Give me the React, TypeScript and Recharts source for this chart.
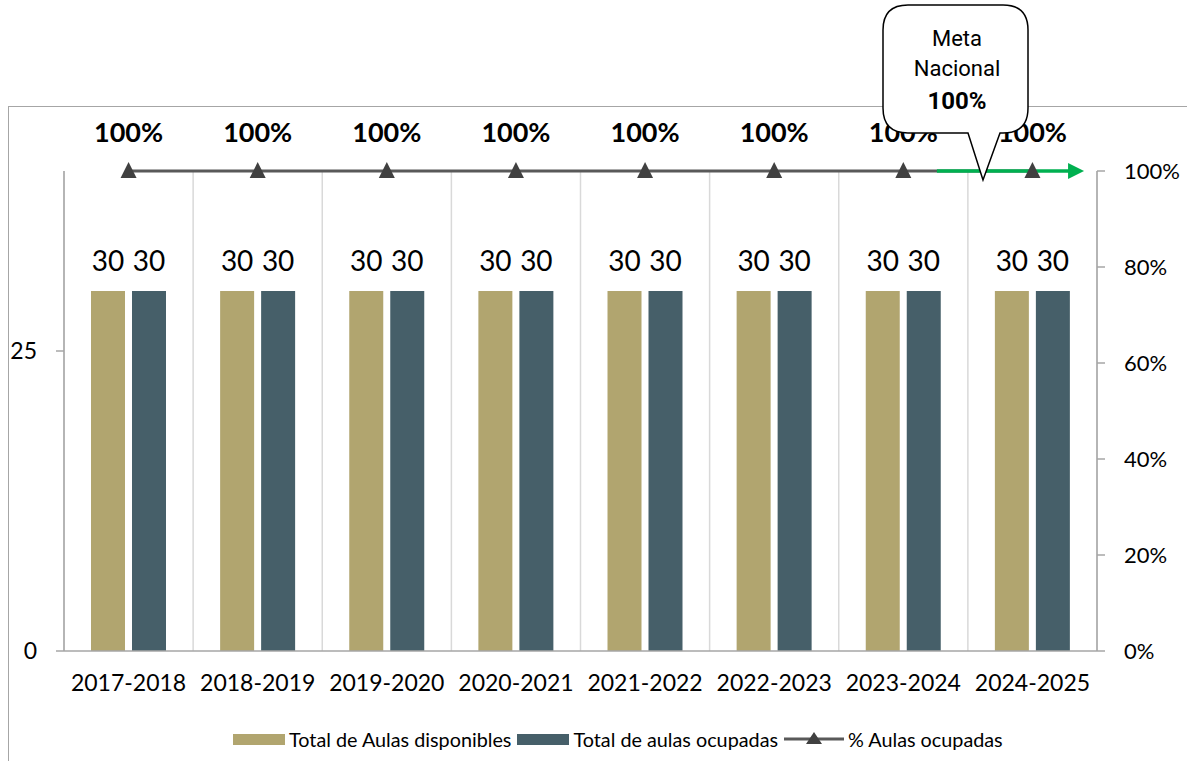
import React from "react"
import {
  Bar,
  CartesianGrid,
  ComposedChart,
  LabelList,
  Legend,
  Line,
  ReferenceLine,
  XAxis,
  YAxis,
} from "recharts"

const categories = ["2017-2018", "2018-2019", "2019-2020", "2020-2021", "2021-2022", "2022-2023", "2023-2024", "2024-2025"]
const disponibles = [30, 30, 30, 30, 30, 30, 30, 30]
const ocupadas = [30, 30, 30, 30, 30, 30, 30, 30]
const porcentaje = [1, 1, 1, 1, 1, 1, 1, 1]

const leftTicks = [0, 25]
const rightTicks = [0, 0.2, 0.4, 0.6, 0.8, 1]

// meta nacional arrow, start/end in category units along the x axis
const metaValue = 1
const metaFrom = 6.76
const metaTo = 7.9

const data = categories.map((name, i) => ({
  name,
  disponibles: disponibles[i],
  ocupadas: ocupadas[i],
  pct: porcentaje[i],
}))

const TAN = "#B1A56F"
const SLATE = "#465F69"
const LINE = "#595959"
const MARK = "#404040"
const FONT = "Lato, 'Open Sans', sans-serif"

const pctFmt = (v: number) => `${Math.round(v * 100)}%`

function Triangle(props: any) {
  const { cx, cy } = props
  if (cx == null || cy == null) return null
  return <polygon points={`${cx},${cy - 9} ${cx - 8},${cy + 7} ${cx + 8},${cy + 7}`} fill={MARK} />
}

function GreenArrow(props: any) {
  const { x1, y1, x2 } = props
  if (x1 == null) return null
  const left = Math.min(x1, x2)
  const band = Math.abs(x2 - x1) / categories.length
  const start = left + metaFrom * band
  const tip = left + metaTo * band
  return (
    <g>
      <line x1={start} y1={y1} x2={tip - 15} y2={y1} stroke="#00B050" strokeWidth={3.5} />
      <polygon points={`${tip},${y1} ${tip - 16},${y1 - 8} ${tip - 16},${y1 + 8}`} fill="#00B050" />
    </g>
  )
}

// vertical gridlines at the category boundaries
const bandLines = ({ offset }: any) => {
  const step = offset.width / categories.length
  return Array.from({ length: categories.length + 1 }, (_, i) => offset.left + i * step)
}

function LegendContent() {
  const item = (swatch: React.ReactNode, label: string) => (
    <div style={{ display: "flex", alignItems: "center", marginRight: 6 }}>
      {swatch}
      <span style={{ marginLeft: 4 }}>{label}</span>
    </div>
  )
  return (
    <div style={{ display: "flex", fontFamily: FONT, fontSize: 19.8, color: "#000", whiteSpace: "nowrap" }}>
      {item(<div style={{ width: 52, height: 11, background: TAN }} />, "Total de Aulas disponibles")}
      {item(<div style={{ width: 52, height: 11, background: SLATE }} />, "Total de aulas ocupadas")}
      {item(
        <svg width={60} height={16}>
          <line x1={0} y1={8} x2={60} y2={8} stroke={LINE} strokeWidth={3} />
          <polygon points="30,1 22,13 38,13" fill={MARK} />
        </svg>,
        "% Aulas ocupadas"
      )}
    </div>
  )
}

export default function App() {
  return (
    <div style={{ position: "absolute", left: 0, top: 0, width: 1187, height: 761, overflow: "hidden", background: "#fff" }}>
      <div
        style={{
          position: "absolute",
          left: 8,
          top: 106,
          width: 1300,
          height: 800,
          border: "1.5px solid #A6A6A6",
        }}
      />
      <div style={{ position: "absolute", left: 0, top: 0 }}>
        <ComposedChart
          width={1187}
          height={761}
          data={data}
          margin={{ top: 171, right: 0, bottom: 0, left: 0 }}
          barSize={34}
          barGap={7}
        >
          <CartesianGrid
            horizontal={false}
            verticalCoordinatesGenerator={bandLines}
            stroke="#D9D9D9"
            strokeWidth={1.5}
          />
          <XAxis
            dataKey="name"
            height={110}
            axisLine={{ stroke: "#A6A6A6", strokeWidth: 1.5 }}
            tickLine={false}
            tickMargin={18}
            tick={{ fontSize: 23, fill: "#000", fontFamily: FONT }}
            interval={0}
          />
          <YAxis
            yAxisId="left"
            width={64}
            domain={[0, 40]}
            ticks={leftTicks}
            axisLine={{ stroke: "#A6A6A6", strokeWidth: 1.5 }}
            tickLine={{ stroke: "#A6A6A6", strokeWidth: 1.5 }}
            tickSize={8}
            tickMargin={19}
            tick={{ fontSize: 23, fill: "#000", fontFamily: FONT }}
          />
          <YAxis
            yAxisId="right"
            orientation="right"
            width={90}
            domain={[0, 1]}
            ticks={rightTicks}
            tickFormatter={pctFmt}
            axisLine={{ stroke: "#A6A6A6", strokeWidth: 1.5 }}
            tickLine={{ stroke: "#A6A6A6", strokeWidth: 1.5 }}
            tickSize={8}
            tickMargin={19}
            tick={{ fontSize: 22, fill: "#000", fontFamily: FONT }}
          />
          <Legend
            verticalAlign="middle"
            align="center"
            wrapperStyle={{ left: 233, top: 727, width: "auto" }}
            content={<LegendContent />}
          />
          <Bar dataKey="disponibles" yAxisId="left" fill={TAN} isAnimationActive={false}>
            <LabelList dataKey="disponibles" position="top" offset={20} fontSize={28} fill="#000" fontFamily={FONT} />
          </Bar>
          <Bar dataKey="ocupadas" yAxisId="left" fill={SLATE} isAnimationActive={false}>
            <LabelList dataKey="ocupadas" position="top" offset={20} fontSize={28} fill="#000" fontFamily={FONT} />
          </Bar>
          <Line
            dataKey="pct"
            yAxisId="right"
            stroke={LINE}
            strokeWidth={3}
            dot={<Triangle />}
            activeDot={false}
            isAnimationActive={false}
          >
            <LabelList
              dataKey="pct"
              position="top"
              offset={29}
              formatter={(v: any) => pctFmt(Number(v))}
              fontSize={27}
              fontWeight="bold"
              fill="#000"
              fontFamily={FONT}
            />
          </Line>
          <ReferenceLine yAxisId="right" y={metaValue} shape={<GreenArrow />} />
        </ComposedChart>
      </div>
      <svg width={1187} height={761} style={{ position: "absolute", left: 0, top: 0, pointerEvents: "none" }}>
        <path
          d="M 908 5 L 1003 5 Q 1028 5 1028 30 L 1028 108 Q 1028 133 1003 133 L 1000 133 L 983 180 L 968 133 L 908 133 Q 883 133 883 108 L 883 30 Q 883 5 908 5 Z"
          fill="#fff"
          stroke="#000"
          strokeWidth={1.5}
        />
        <g fontFamily="'Liberation Sans Narrow', Roboto, sans-serif" fontSize={22} textAnchor="middle" fill="#000">
          <text x={957} y={46}>Meta</text>
          <text x={957} y={76}>Nacional</text>
          <text x={957} y={109} fontWeight="bold" fontSize={24}>100%</text>
        </g>
      </svg>
    </div>
  )
}
